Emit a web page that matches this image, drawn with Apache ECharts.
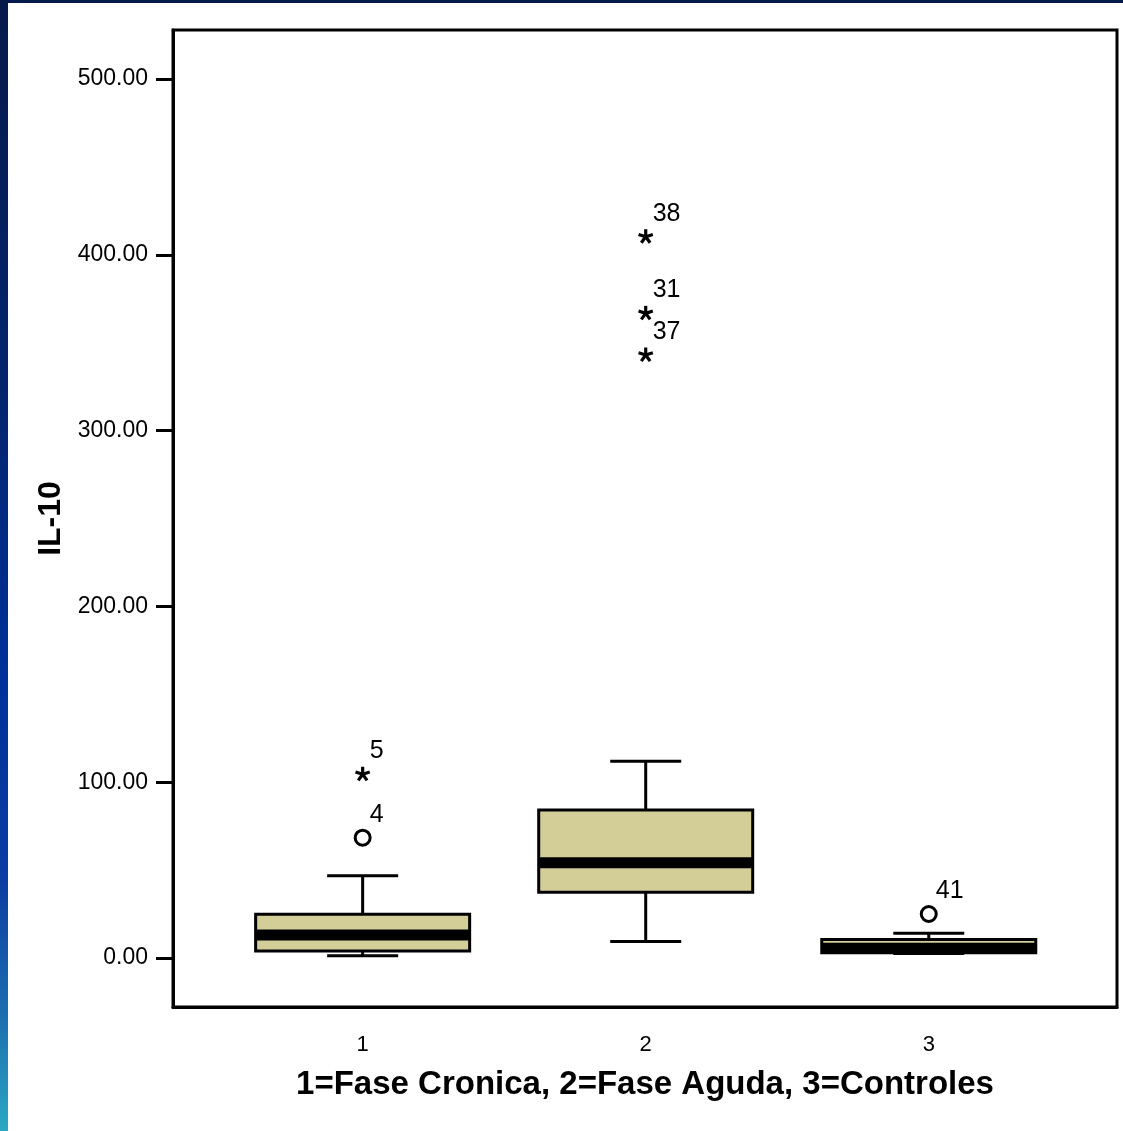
<!DOCTYPE html>
<html>
<head>
<meta charset="utf-8">
<script src="https://cdn.jsdelivr.net/npm/echarts@6/dist/echarts.min.js"></script>
<style>
html, body { margin: 0; padding: 0; background: #fff; }
#chart { width: 1123px; height: 1131px; }
</style>
</head>
<body>
<div id="chart"></div>
<script>
// groups on the x axis
const categories = ['1', '2', '3'];
// whisker ends, quartiles and median per group
const boxMin = [1.3, 9.3, 2.5];
const boxQ1 = [4.0, 37.4, 3.0];
const boxMedian = [13.1, 54.2, 5.5];
const boxQ3 = [24.9, 84.2, 10.5];
const boxMax = [46.8, 111.9, 14.0];

// outliers (o) and extremes (*) with case numbers
const outlierGroup = [1, 1, 2, 2, 2, 3];
const outlierValue = [104.5, 68.4, 410.3, 366.7, 343.0, 25.0];
const outlierCase = ['5', '4', '38', '31', '37', '41'];
const outlierType = ['extreme', 'outlier', 'extreme', 'extreme', 'extreme', 'outlier'];

const yTicks = [0, 100, 200, 300, 400, 500];

const FONT = 'Arial, "Liberation Sans", Helvetica, sans-serif';

const boxData = categories.map((c, i) => [i + 1, boxMin[i], boxQ1[i], boxMedian[i], boxQ3[i], boxMax[i]]);
const outlierData = outlierGroup.map((g, i) => [g, outlierValue[i]]);

const myChart = echarts.init(document.getElementById('chart'));

const renderBox = function (params, api) {
  const x = api.value(0);
  const pMin = api.coord([x, api.value(1)]);
  const pQ1 = api.coord([x, api.value(2)]);
  const pMed = api.coord([x, api.value(3)]);
  const pQ3 = api.coord([x, api.value(4)]);
  const pMax = api.coord([x, api.value(5)]);
  const cx = pMed[0];
  const half = 107;
  const cap = 35.5;
  const medH = 11;
  const line = { stroke: '#000', lineWidth: 3 };
  return {
    type: 'group',
    children: [
      { type: 'line', shape: { x1: cx, y1: pMax[1], x2: cx, y2: pQ3[1] }, style: line },
      { type: 'line', shape: { x1: cx, y1: pQ1[1], x2: cx, y2: pMin[1] }, style: line },
      { type: 'line', shape: { x1: cx - cap, y1: pMax[1], x2: cx + cap, y2: pMax[1] }, style: line },
      { type: 'line', shape: { x1: cx - cap, y1: pMin[1], x2: cx + cap, y2: pMin[1] }, style: line },
      {
        type: 'rect',
        shape: { x: cx - half, y: pQ3[1], width: half * 2, height: pQ1[1] - pQ3[1] },
        style: { fill: '#D3CE98', stroke: '#000', lineWidth: 3 }
      },
      {
        type: 'rect',
        shape: { x: cx - half, y: pMed[1] - medH / 2, width: half * 2, height: medH },
        style: { fill: '#000' }
      }
    ]
  };
};

const renderOutlier = function (params, api) {
  const p = api.coord([api.value(0), api.value(1)]);
  const idx = params.dataIndex;
  const children = [];
  if (outlierType[idx] === 'outlier') {
    children.push({
      type: 'circle',
      shape: { cx: p[0], cy: p[1], r: 7.5 },
      style: { fill: '#fff', stroke: '#000', lineWidth: 3 }
    });
  } else {
    const r = 7.5;
    for (let k = 0; k < 5; k++) {
      const a = (-90 + 72 * k) * Math.PI / 180;
      children.push({
        type: 'line',
        shape: { x1: p[0], y1: p[1], x2: p[0] + r * Math.cos(a), y2: p[1] + r * Math.sin(a) },
        style: { stroke: '#000', lineWidth: 3.2 }
      });
    }
  }
  children.push({
    type: 'text',
    x: p[0] + 7,
    y: p[1] - 23,
    style: { text: outlierCase[idx], fill: '#000', font: '25px ' + FONT, align: 'left', verticalAlign: 'middle' }
  });
  return { type: 'group', children: children };
};

myChart.setOption({
  animation: false,
  backgroundColor: '#fff',
  graphic: [
    { type: 'rect', shape: { x: 0, y: 0, width: 1123, height: 3 }, style: { fill: '#041a4c' }, silent: true },
    {
      type: 'rect',
      shape: { x: 0, y: 0, width: 8, height: 1131 },
      style: {
        fill: new echarts.graphic.LinearGradient(0, 0, 0, 1, [
          { offset: 0, color: '#061a4a' },
          { offset: 0.35, color: '#02256e' },
          { offset: 0.6, color: '#00309a' },
          { offset: 0.78, color: '#0b3ea2' },
          { offset: 0.9, color: '#1d6fb0' },
          { offset: 1, color: '#2aa8c2' }
        ])
      },
      silent: true
    }
  ],
  grid: {
    left: 173,
    right: 6,
    top: 30,
    bottom: 124,
    show: true,
    backgroundColor: 'transparent',
    borderColor: '#000',
    borderWidth: 3,
    outerBoundsMode: 'none',
    containLabel: false
  },
  xAxis: {
    type: 'value',
    min: 0.33,
    max: 3.665,
    axisLine: { show: true, onZero: false, lineStyle: { color: '#000', width: 3 } },
    axisTick: { show: false },
    splitLine: { show: false },
    axisLabel: {
      customValues: [1, 2, 3],
      formatter: v => categories[Math.round(v) - 1],
      margin: 27,
      color: '#000',
      fontSize: 22,
      fontFamily: FONT
    },
    name: '1=Fase Cronica, 2=Fase Aguda, 3=Controles',
    nameLocation: 'middle',
    nameGap: 61,
    nameTextStyle: { color: '#000', fontSize: 33, fontWeight: 'bold', fontFamily: FONT }
  },
  yAxis: {
    type: 'value',
    min: -27.9,
    max: 527.9,
    axisLine: { show: true, onZero: false, lineStyle: { color: '#000', width: 3 } },
    axisTick: { show: true, customValues: yTicks, length: 17, inside: false, lineStyle: { color: '#000', width: 3 } },
    splitLine: { show: false },
    axisLabel: {
      customValues: yTicks,
      formatter: v => v.toFixed(2),
      margin: 25,
      color: '#000',
      fontSize: 23,
      fontFamily: FONT
    },
    name: 'IL-10',
    nameLocation: 'middle',
    nameRotate: 90,
    nameGap: 100,
    nameTextStyle: { color: '#000', fontSize: 32, fontWeight: 'bold', fontFamily: FONT }
  },
  series: [
    {
      type: 'custom',
      name: 'box',
      renderItem: renderBox,
      encode: { x: 0, y: [1, 2, 3, 4, 5] },
      data: boxData,
      z: 2
    },
    {
      type: 'custom',
      name: 'outliers',
      renderItem: renderOutlier,
      encode: { x: 0, y: 1 },
      data: outlierData,
      z: 3
    }
  ]
});
</script>
</body>
</html>
